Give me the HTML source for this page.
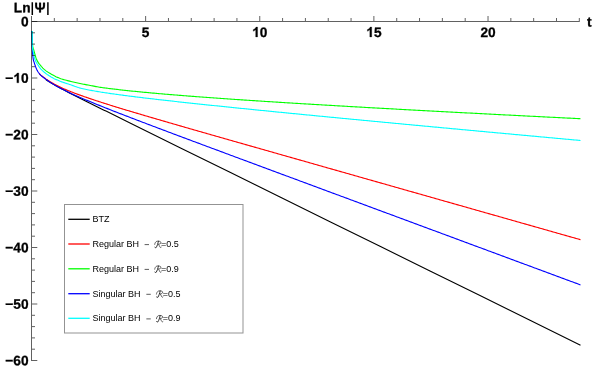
<!DOCTYPE html>
<html><head><meta charset="utf-8"><title>plot</title>
<style>html,body{margin:0;padding:0;background:#fff;}svg{display:block;will-change:transform;}</style></head>
<body><svg width="600" height="374" viewBox="0 0 600 374"><path d="M46.00,79.67 L48.00,81.00 L50.00,82.26 L52.00,83.47 L54.00,84.63 L56.00,85.76 L58.00,86.87 L60.00,87.95 L62.00,89.02 L64.00,90.07 L66.00,91.12 L68.00,92.15 L70.00,93.17 L72.00,94.19 L74.00,95.21 L76.00,96.21 L78.00,97.22 L80.00,98.22 L82.00,99.22 L84.00,100.22 L86.00,101.22 L88.00,102.21 L90.00,103.20 L92.00,104.19 L94.00,105.19 L96.00,106.18 L98.00,107.17 L100.00,108.16 L102.00,109.14 L104.00,110.13 L106.00,111.12 L108.00,112.11 L110.00,113.10 L112.00,114.08 L114.00,115.07 L116.00,116.06 L118.00,117.05 L120.00,118.03 L122.00,119.02 L124.00,120.01 L126.00,120.99 L128.00,121.98 L130.00,122.97 L180.00,147.63 L230.00,172.30 L280.00,196.96 L330.00,221.63 L380.00,246.29 L430.00,270.96 L480.00,295.62 L530.00,320.29 L580.00,344.95 L580.50,345.20" stroke="#000000" stroke-width="1.12" fill="none" stroke-linejoin="round"/>
<path d="M39.20,73.40 L39.92,74.29 L40.71,75.09 L41.60,75.80 L42.52,76.49 L43.44,77.15 L44.35,77.83 L45.28,78.49 L46.21,79.14 L47.16,79.76 L48.12,80.38 L49.08,80.99 L50.04,81.60 L51.00,82.20 L51.98,82.79 L52.96,83.35 L53.96,83.91 L54.96,84.45 L55.96,84.98 L56.97,85.51 L57.99,86.02 L59.01,86.53 L60.03,87.02 L61.06,87.49 L62.10,87.97 L63.14,88.43 L64.18,88.89 L65.22,89.34 L66.27,89.79 L67.32,90.23 L68.37,90.66 L69.42,91.10 L70.48,91.52 L71.53,91.94 L72.59,92.35 L73.66,92.76 L74.72,93.16 L75.79,93.56 L76.85,93.96 L77.92,94.35 L78.99,94.74 L80.06,95.13 L81.13,95.52 L82.20,95.90 L83.27,96.28 L84.34,96.66 L85.42,97.03 L86.49,97.40 L87.57,97.77 L88.64,98.14 L89.72,98.51 L90.80,98.87 L91.88,99.23 L92.96,99.59 L94.03,99.95 L95.11,100.31 L96.19,100.66 L97.28,101.02 L98.36,101.37 L99.44,101.72 L100.52,102.07 L101.60,102.42 L102.69,102.77 L103.77,103.11 L104.85,103.46 L105.94,103.80 L107.02,104.14 L108.11,104.49 L109.19,104.83 L110.28,105.17 L111.36,105.51 L112.45,105.84 L113.54,106.18 L114.62,106.52 L115.71,106.85 L116.80,107.19 L117.89,107.52 L118.97,107.85 L120.06,108.19 L121.15,108.52 L122.24,108.85 L123.33,109.18 L124.41,109.51 L125.50,109.84 L126.59,110.17 L127.68,110.50 L128.77,110.82 L129.86,111.15 L130.95,111.47 L132.04,111.80 L133.13,112.12 L134.22,112.45 L135.31,112.77 L136.40,113.09 L137.49,113.41 L138.58,113.74 L139.67,114.06 L140.76,114.38 L141.86,114.70 L142.95,115.02 L144.04,115.35 L145.13,115.67 L146.22,115.99 L147.31,116.31 L148.40,116.63 L149.49,116.95 L150.59,117.27 L151.68,117.59 L152.77,117.91 L153.86,118.23 L154.95,118.54 L156.04,118.86 L157.14,119.18 L158.23,119.50 L159.32,119.82 L160.41,120.14 L161.50,120.45 L162.60,120.77 L163.69,121.09 L164.78,121.41 L165.87,121.72 L166.97,122.04 L168.06,122.36 L169.15,122.68 L170.24,122.99 L171.34,123.31 L172.43,123.63 L173.52,123.94 L174.61,124.26 L175.71,124.58 L176.80,124.89 L177.89,125.21 L178.98,125.52 L180.08,125.84 L181.17,126.16 L182.26,126.47 L183.35,126.79 L184.45,127.10 L185.54,127.42 L186.63,127.73 L187.73,128.05 L188.82,128.36 L189.91,128.68 L191.00,128.99 L192.10,129.30 L193.19,129.62 L194.28,129.93 L195.38,130.25 L196.47,130.56 L197.57,130.87 L198.66,131.18 L199.75,131.50 L200.85,131.81 L201.94,132.12 L203.03,132.44 L204.13,132.75 L205.22,133.06 L206.31,133.37 L207.41,133.68 L208.50,134.00 L209.60,134.31 L210.69,134.62 L211.78,134.93 L212.88,135.24 L213.97,135.56 L215.06,135.87 L216.16,136.18 L217.25,136.49 L218.35,136.80 L219.44,137.12 L220.53,137.43 L221.63,137.74 L222.72,138.05 L223.82,138.36 L224.91,138.67 L226.00,138.99 L227.10,139.30 L228.19,139.61 L229.28,139.92 L230.38,140.23 L231.47,140.55 L232.57,140.86 L233.66,141.17 L234.75,141.48 L235.85,141.79 L236.94,142.11 L238.04,142.42 L239.13,142.73 L240.22,143.04 L241.32,143.35 L242.41,143.66 L243.50,143.98 L244.60,144.29 L245.69,144.60 L246.79,144.91 L247.88,145.22 L248.97,145.53 L250.07,145.84 L251.16,146.16 L252.26,146.47 L253.35,146.78 L254.44,147.09 L255.54,147.40 L256.63,147.71 L257.73,148.02 L258.82,148.33 L259.91,148.64 L261.01,148.96 L262.10,149.27 L263.20,149.58 L264.29,149.89 L265.39,150.20 L266.48,150.51 L267.57,150.82 L268.67,151.13 L269.76,151.44 L270.86,151.75 L271.95,152.07 L273.04,152.38 L274.14,152.69 L275.23,153.00 L276.33,153.31 L277.42,153.62 L278.51,153.93 L279.61,154.24 L280.70,154.55 L281.80,154.86 L282.89,155.18 L283.98,155.49 L285.08,155.80 L286.17,156.11 L287.27,156.42 L288.36,156.73 L289.45,157.04 L290.55,157.35 L291.64,157.66 L292.74,157.97 L293.83,158.29 L294.93,158.60 L296.02,158.91 L297.11,159.22 L298.21,159.53 L299.30,159.84 L300.40,160.15 L301.49,160.46 L302.58,160.77 L303.68,161.08 L304.77,161.39 L305.87,161.71 L306.96,162.02 L308.05,162.33 L309.15,162.64 L310.24,162.95 L311.34,163.26 L312.43,163.57 L313.53,163.88 L314.62,164.19 L315.71,164.50 L316.81,164.81 L317.90,165.12 L319.00,165.43 L320.09,165.75 L321.18,166.06 L322.28,166.37 L323.37,166.68 L324.47,166.99 L325.56,167.30 L326.66,167.61 L327.75,167.92 L328.84,168.23 L329.94,168.54 L331.03,168.85 L332.13,169.16 L333.22,169.48 L334.31,169.79 L335.41,170.10 L336.50,170.41 L337.60,170.72 L338.69,171.03 L339.78,171.34 L340.88,171.65 L341.97,171.96 L343.07,172.27 L344.16,172.58 L345.26,172.89 L346.35,173.20 L347.44,173.52 L348.54,173.83 L349.63,174.14 L350.73,174.45 L351.82,174.76 L352.91,175.07 L354.01,175.38 L355.10,175.69 L356.20,176.00 L357.29,176.31 L358.39,176.62 L359.48,176.93 L360.57,177.24 L361.67,177.55 L362.76,177.87 L363.86,178.18 L364.95,178.49 L366.04,178.80 L367.14,179.11 L368.23,179.42 L369.33,179.73 L370.42,180.04 L371.52,180.35 L372.61,180.66 L373.70,180.97 L374.80,181.28 L375.89,181.59 L376.99,181.91 L378.08,182.22 L379.17,182.53 L380.27,182.84 L381.36,183.15 L382.46,183.46 L383.55,183.77 L384.65,184.08 L385.74,184.39 L386.83,184.70 L387.93,185.01 L389.02,185.32 L390.12,185.63 L391.21,185.94 L392.30,186.26 L393.40,186.57 L394.49,186.88 L395.59,187.19 L396.68,187.50 L397.78,187.81 L398.87,188.12 L399.96,188.43 L401.06,188.74 L402.15,189.05 L403.25,189.36 L404.34,189.67 L405.43,189.98 L406.53,190.30 L407.62,190.61 L408.72,190.92 L409.81,191.23 L410.90,191.54 L412.00,191.85 L413.09,192.16 L414.19,192.47 L415.28,192.78 L416.38,193.09 L417.47,193.40 L418.56,193.71 L419.66,194.02 L420.75,194.33 L421.85,194.65 L422.94,194.96 L424.03,195.27 L425.13,195.58 L426.22,195.89 L427.32,196.20 L428.41,196.51 L429.51,196.82 L430.60,197.13 L431.69,197.44 L432.79,197.75 L433.88,198.06 L434.98,198.37 L436.07,198.68 L437.16,199.00 L438.26,199.31 L439.35,199.62 L440.45,199.93 L441.54,200.24 L442.64,200.55 L443.73,200.86 L444.82,201.17 L445.92,201.48 L447.01,201.79 L448.11,202.10 L449.20,202.41 L450.29,202.72 L451.39,203.03 L452.48,203.35 L453.58,203.66 L454.67,203.97 L455.77,204.28 L456.86,204.59 L457.95,204.90 L459.05,205.21 L460.14,205.52 L461.24,205.83 L462.33,206.14 L463.42,206.45 L464.52,206.76 L465.61,207.07 L466.71,207.38 L467.80,207.70 L468.90,208.01 L469.99,208.32 L471.08,208.63 L472.18,208.94 L473.27,209.25 L474.37,209.56 L475.46,209.87 L476.55,210.18 L477.65,210.49 L478.74,210.80 L479.84,211.11 L480.93,211.42 L482.03,211.73 L483.12,212.05 L484.21,212.36 L485.31,212.67 L486.40,212.98 L487.50,213.29 L488.59,213.60 L489.68,213.91 L490.78,214.22 L491.87,214.53 L492.97,214.84 L494.06,215.15 L495.16,215.46 L496.25,215.77 L497.34,216.08 L498.44,216.40 L499.53,216.71 L500.63,217.02 L501.72,217.33 L502.81,217.64 L503.91,217.95 L505.00,218.26 L506.10,218.57 L507.19,218.88 L508.29,219.19 L509.38,219.50 L510.47,219.81 L511.57,220.12 L512.66,220.43 L513.76,220.75 L514.85,221.06 L515.94,221.37 L517.04,221.68 L518.13,221.99 L519.23,222.30 L520.32,222.61 L521.42,222.92 L522.51,223.23 L523.60,223.54 L524.70,223.85 L525.79,224.16 L526.89,224.47 L527.98,224.78 L529.07,225.10 L530.17,225.41 L531.26,225.72 L532.36,226.03 L533.45,226.34 L534.55,226.65 L535.64,226.96 L536.73,227.27 L537.83,227.58 L538.92,227.89 L540.02,228.20 L541.11,228.51 L542.20,228.82 L543.30,229.13 L544.39,229.45 L545.49,229.76 L546.58,230.07 L547.68,230.38 L548.77,230.69 L549.86,231.00 L550.96,231.31 L552.05,231.62 L553.15,231.93 L554.24,232.24 L555.33,232.55 L556.43,232.86 L557.52,233.17 L558.62,233.48 L559.71,233.80 L560.81,234.11 L561.90,234.42 L562.99,234.73 L564.09,235.04 L565.18,235.35 L566.28,235.66 L567.37,235.97 L568.46,236.28 L569.56,236.59 L570.65,236.90 L571.75,237.21 L572.84,237.52 L573.94,237.83 L575.03,238.15 L576.12,238.46 L577.22,238.77 L578.31,239.08 L579.41,239.39 L580.50,239.70" stroke="#ff0000" stroke-width="1.12" fill="none" stroke-linejoin="round"/>
<path d="M32.00,31.00 L32.02,32.17 L32.04,33.34 L32.07,34.50 L32.11,35.67 L32.15,36.83 L32.20,38.00 L32.25,39.17 L32.30,40.34 L32.36,41.51 L32.43,42.68 L32.52,43.85 L32.62,45.01 L32.74,46.16 L32.90,47.30 L33.21,48.42 L33.59,49.54 L33.94,50.66 L34.25,51.78 L34.56,52.91 L34.88,54.03 L35.20,55.16 L35.52,56.29 L35.85,57.42 L36.22,58.52 L36.64,59.60 L37.14,60.65 L37.72,61.67 L38.34,62.66 L39.03,63.60 L39.77,64.50 L40.52,65.40 L41.27,66.30 L42.04,67.18 L42.83,68.03 L43.66,68.85 L44.53,69.63 L45.43,70.38 L46.36,71.09 L47.31,71.76 L48.30,72.38 L49.30,72.98 L50.30,73.58 L51.31,74.18 L52.32,74.76 L53.34,75.32 L54.38,75.87 L55.42,76.39 L56.47,76.90 L57.54,77.38 L58.61,77.84 L59.69,78.28 L60.78,78.69 L61.89,79.06 L63.00,79.41 L64.12,79.73 L65.25,80.04 L66.38,80.33 L67.52,80.60 L68.65,80.88 L69.79,81.15 L70.92,81.42 L72.06,81.70 L73.19,81.97 L74.33,82.24 L75.47,82.50 L76.61,82.76 L77.74,83.02 L78.88,83.26 L80.03,83.51 L81.17,83.74 L82.31,83.96 L83.46,84.19 L84.61,84.40 L85.76,84.61 L86.90,84.83 L88.05,85.04 L89.20,85.25 L90.35,85.47 L91.49,85.69 L92.64,85.91 L93.79,86.14 L94.93,86.37 L96.08,86.59 L97.22,86.80 L98.37,87.01 L99.52,87.20 L100.68,87.38 L101.83,87.55 L102.99,87.71 L104.14,87.86 L105.30,88.01 L106.46,88.16 L107.62,88.30 L108.78,88.45 L109.94,88.59 L111.10,88.73 L112.25,88.87 L113.41,89.01 L114.57,89.15 L115.73,89.29 L116.89,89.42 L118.05,89.56 L119.21,89.69 L120.37,89.82 L121.53,89.95 L122.69,90.08 L123.85,90.21 L125.01,90.33 L126.17,90.46 L127.33,90.58 L128.49,90.71 L129.65,90.83 L130.81,90.95 L131.98,91.07 L133.14,91.19 L134.30,91.30 L135.46,91.42 L136.62,91.54 L137.78,91.65 L138.94,91.77 L140.11,91.88 L141.27,91.99 L142.43,92.10 L143.59,92.21 L144.75,92.32 L145.92,92.43 L147.08,92.54 L148.24,92.65 L149.40,92.76 L150.57,92.86 L151.73,92.97 L152.89,93.07 L154.05,93.18 L155.22,93.28 L156.38,93.39 L157.54,93.49 L158.70,93.59 L159.87,93.69 L161.03,93.79 L162.19,93.89 L163.36,93.99 L164.52,94.09 L165.68,94.19 L166.85,94.29 L168.01,94.39 L169.17,94.49 L170.34,94.58 L171.50,94.68 L172.66,94.77 L173.83,94.87 L174.99,94.97 L176.15,95.06 L177.32,95.15 L178.48,95.25 L179.64,95.34 L180.81,95.43 L181.97,95.53 L183.13,95.62 L184.30,95.71 L185.46,95.80 L186.63,95.89 L187.79,95.98 L188.95,96.07 L190.12,96.16 L191.28,96.25 L192.44,96.34 L193.61,96.43 L194.77,96.52 L195.94,96.61 L197.10,96.70 L198.26,96.78 L199.43,96.87 L200.59,96.96 L201.76,97.04 L202.92,97.13 L204.08,97.22 L205.25,97.30 L206.41,97.39 L207.58,97.47 L208.74,97.56 L209.91,97.64 L211.07,97.73 L212.23,97.81 L213.40,97.89 L214.56,97.98 L215.73,98.06 L216.89,98.14 L218.06,98.23 L219.22,98.31 L220.38,98.39 L221.55,98.47 L222.71,98.56 L223.88,98.64 L225.04,98.72 L226.21,98.80 L227.37,98.88 L228.54,98.96 L229.70,99.04 L230.86,99.12 L232.03,99.20 L233.19,99.28 L234.36,99.36 L235.52,99.44 L236.69,99.52 L237.85,99.60 L239.02,99.68 L240.18,99.76 L241.35,99.83 L242.51,99.91 L243.68,99.99 L244.84,100.07 L246.00,100.15 L247.17,100.22 L248.33,100.30 L249.50,100.38 L250.66,100.45 L251.83,100.53 L252.99,100.61 L254.16,100.68 L255.32,100.76 L256.49,100.84 L257.65,100.91 L258.82,100.99 L259.98,101.06 L261.15,101.14 L262.31,101.21 L263.48,101.29 L264.64,101.37 L265.81,101.44 L266.97,101.51 L268.14,101.59 L269.30,101.66 L270.47,101.74 L271.63,101.81 L272.80,101.89 L273.96,101.96 L275.13,102.03 L276.29,102.11 L277.46,102.18 L278.62,102.25 L279.79,102.33 L280.95,102.40 L282.12,102.47 L283.28,102.54 L284.45,102.62 L285.61,102.69 L286.78,102.76 L287.94,102.83 L289.11,102.91 L290.27,102.98 L291.44,103.05 L292.60,103.12 L293.77,103.19 L294.93,103.27 L296.10,103.34 L297.26,103.41 L298.43,103.48 L299.59,103.55 L300.76,103.62 L301.92,103.69 L303.09,103.76 L304.25,103.83 L305.42,103.90 L306.58,103.97 L307.75,104.04 L308.91,104.11 L310.08,104.18 L311.24,104.25 L312.41,104.32 L313.57,104.39 L314.74,104.46 L315.90,104.53 L317.07,104.60 L318.24,104.67 L319.40,104.74 L320.57,104.81 L321.73,104.88 L322.90,104.95 L324.06,105.02 L325.23,105.08 L326.39,105.15 L327.56,105.22 L328.72,105.29 L329.89,105.36 L331.05,105.43 L332.22,105.50 L333.38,105.56 L334.55,105.63 L335.71,105.70 L336.88,105.77 L338.04,105.84 L339.21,105.90 L340.38,105.97 L341.54,106.04 L342.71,106.11 L343.87,106.17 L345.04,106.24 L346.20,106.31 L347.37,106.37 L348.53,106.44 L349.70,106.51 L350.86,106.57 L352.03,106.64 L353.19,106.71 L354.36,106.77 L355.53,106.84 L356.69,106.91 L357.86,106.97 L359.02,107.04 L360.19,107.11 L361.35,107.17 L362.52,107.24 L363.68,107.30 L364.85,107.37 L366.01,107.44 L367.18,107.50 L368.34,107.57 L369.51,107.63 L370.68,107.70 L371.84,107.76 L373.01,107.83 L374.17,107.90 L375.34,107.96 L376.50,108.03 L377.67,108.09 L378.83,108.16 L380.00,108.22 L381.17,108.29 L382.33,108.35 L383.50,108.42 L384.66,108.48 L385.83,108.55 L386.99,108.61 L388.16,108.68 L389.32,108.74 L390.49,108.80 L391.65,108.87 L392.82,108.93 L393.99,109.00 L395.15,109.06 L396.32,109.13 L397.48,109.19 L398.65,109.25 L399.81,109.32 L400.98,109.38 L402.14,109.45 L403.31,109.51 L404.48,109.57 L405.64,109.64 L406.81,109.70 L407.97,109.76 L409.14,109.83 L410.30,109.89 L411.47,109.95 L412.63,110.02 L413.80,110.08 L414.97,110.14 L416.13,110.21 L417.30,110.27 L418.46,110.33 L419.63,110.40 L420.79,110.46 L421.96,110.52 L423.12,110.59 L424.29,110.65 L425.46,110.71 L426.62,110.77 L427.79,110.84 L428.95,110.90 L430.12,110.96 L431.28,111.02 L432.45,111.09 L433.62,111.15 L434.78,111.21 L435.95,111.27 L437.11,111.34 L438.28,111.40 L439.44,111.46 L440.61,111.52 L441.77,111.59 L442.94,111.65 L444.11,111.71 L445.27,111.77 L446.44,111.83 L447.60,111.90 L448.77,111.96 L449.93,112.02 L451.10,112.08 L452.27,112.14 L453.43,112.20 L454.60,112.27 L455.76,112.33 L456.93,112.39 L458.09,112.45 L459.26,112.51 L460.43,112.57 L461.59,112.63 L462.76,112.70 L463.92,112.76 L465.09,112.82 L466.25,112.88 L467.42,112.94 L468.59,113.00 L469.75,113.06 L470.92,113.12 L472.08,113.18 L473.25,113.25 L474.41,113.31 L475.58,113.37 L476.74,113.43 L477.91,113.49 L479.08,113.55 L480.24,113.61 L481.41,113.67 L482.57,113.73 L483.74,113.79 L484.90,113.85 L486.07,113.91 L487.24,113.97 L488.40,114.03 L489.57,114.09 L490.73,114.16 L491.90,114.22 L493.07,114.28 L494.23,114.34 L495.40,114.40 L496.56,114.46 L497.73,114.52 L498.89,114.58 L500.06,114.64 L501.23,114.70 L502.39,114.76 L503.56,114.82 L504.72,114.88 L505.89,114.94 L507.05,115.00 L508.22,115.06 L509.39,115.12 L510.55,115.18 L511.72,115.24 L512.88,115.30 L514.05,115.36 L515.21,115.41 L516.38,115.47 L517.55,115.53 L518.71,115.59 L519.88,115.65 L521.04,115.71 L522.21,115.77 L523.37,115.83 L524.54,115.89 L525.71,115.95 L526.87,116.01 L528.04,116.07 L529.20,116.13 L530.37,116.19 L531.54,116.25 L532.70,116.31 L533.87,116.36 L535.03,116.42 L536.20,116.48 L537.36,116.54 L538.53,116.60 L539.70,116.66 L540.86,116.72 L542.03,116.78 L543.19,116.84 L544.36,116.90 L545.53,116.95 L546.69,117.01 L547.86,117.07 L549.02,117.13 L550.19,117.19 L551.35,117.25 L552.52,117.31 L553.69,117.36 L554.85,117.42 L556.02,117.48 L557.18,117.54 L558.35,117.60 L559.51,117.66 L560.68,117.72 L561.85,117.77 L563.01,117.83 L564.18,117.89 L565.34,117.95 L566.51,118.01 L567.68,118.07 L568.84,118.12 L570.01,118.18 L571.17,118.24 L572.34,118.30 L573.50,118.36 L574.67,118.42 L575.84,118.47 L577.00,118.53 L578.17,118.59 L579.33,118.65 L580.50,118.71" stroke="#00ff00" stroke-width="1.12" fill="none" stroke-linejoin="round"/>
<path d="M31.80,31.00 L31.83,32.25 L31.86,33.51 L31.88,34.76 L31.91,36.02 L31.94,37.27 L31.96,38.52 L31.98,39.78 L32.00,41.03 L32.01,42.29 L32.03,43.54 L32.05,44.80 L32.08,46.05 L32.13,47.30 L32.23,48.55 L32.34,49.80 L32.44,51.05 L32.52,52.31 L32.61,53.56 L32.72,54.81 L32.85,56.06 L32.99,57.31 L33.16,58.56 L33.36,59.79 L33.66,61.00 L34.06,62.19 L34.45,63.38 L34.85,64.57 L35.26,65.76 L35.67,66.94 L36.13,68.11 L36.64,69.26 L37.20,70.38 L37.80,71.48 L38.48,72.53 L39.23,73.54 L40.04,74.51 L40.92,75.39 L41.88,76.20 L42.85,76.99 L43.84,77.77 L44.84,78.53 L45.84,79.28 L46.86,80.01 L47.89,80.73 L48.93,81.43 L49.98,82.11 L51.04,82.79 L52.10,83.46 L53.17,84.12 L54.24,84.77 L55.32,85.41 L56.41,86.03 L57.50,86.65 L58.60,87.25 L59.70,87.84 L60.82,88.42 L61.94,88.97 L63.07,89.53 L64.19,90.10 L65.31,90.67 L66.43,91.23 L67.55,91.79 L68.68,92.34 L69.81,92.88 L70.94,93.41 L72.09,93.93 L73.23,94.44 L74.38,94.95 L75.53,95.45 L76.68,95.96 L77.83,96.46 L78.98,96.96 L80.13,97.45 L81.28,97.95 L82.44,98.44 L83.59,98.93 L84.75,99.41 L85.90,99.90 L87.06,100.38 L88.22,100.87 L89.38,101.35 L90.54,101.83 L91.70,102.30 L92.86,102.78 L94.02,103.25 L95.18,103.73 L96.34,104.20 L97.50,104.67 L98.67,105.14 L99.83,105.61 L101.00,106.07 L102.16,106.54 L103.32,107.00 L104.49,107.47 L105.66,107.93 L106.82,108.39 L107.99,108.86 L109.16,109.32 L110.32,109.78 L111.49,110.24 L112.66,110.69 L113.83,111.15 L114.99,111.61 L116.16,112.06 L117.33,112.52 L118.50,112.97 L119.67,113.43 L120.84,113.88 L122.01,114.34 L123.18,114.79 L124.35,115.24 L125.52,115.69 L126.69,116.14 L127.86,116.59 L129.03,117.04 L130.20,117.49 L131.37,117.94 L132.54,118.39 L133.72,118.84 L134.89,119.28 L136.06,119.73 L137.23,120.18 L138.40,120.62 L139.58,121.07 L140.75,121.51 L141.92,121.96 L143.09,122.40 L144.27,122.85 L145.44,123.29 L146.61,123.74 L147.79,124.18 L148.96,124.63 L150.13,125.07 L151.31,125.52 L152.48,125.96 L153.65,126.40 L154.83,126.85 L156.00,127.29 L157.17,127.73 L158.35,128.17 L159.52,128.62 L160.69,129.06 L161.87,129.50 L163.04,129.94 L164.21,130.39 L165.39,130.83 L166.56,131.27 L167.74,131.71 L168.91,132.15 L170.08,132.60 L171.26,133.04 L172.43,133.48 L173.61,133.92 L174.78,134.36 L175.96,134.80 L177.13,135.24 L178.30,135.68 L179.48,136.12 L180.65,136.57 L181.83,137.01 L183.00,137.45 L184.18,137.89 L185.35,138.33 L186.53,138.77 L187.70,139.21 L188.87,139.64 L190.05,140.08 L191.22,140.52 L192.40,140.96 L193.57,141.40 L194.75,141.84 L195.93,142.28 L197.10,142.72 L198.28,143.15 L199.45,143.59 L200.63,144.03 L201.80,144.47 L202.98,144.91 L204.15,145.34 L205.33,145.78 L206.50,146.22 L207.68,146.66 L208.86,147.09 L210.03,147.53 L211.21,147.97 L212.38,148.41 L213.56,148.84 L214.73,149.28 L215.91,149.72 L217.09,150.15 L218.26,150.59 L219.44,151.03 L220.61,151.47 L221.79,151.90 L222.96,152.34 L224.14,152.78 L225.32,153.21 L226.49,153.65 L227.67,154.09 L228.84,154.53 L230.02,154.96 L231.19,155.40 L232.37,155.84 L233.54,156.27 L234.72,156.71 L235.90,157.15 L237.07,157.59 L238.25,158.02 L239.42,158.46 L240.60,158.90 L241.78,159.33 L242.95,159.77 L244.13,160.21 L245.30,160.64 L246.48,161.08 L247.65,161.52 L248.83,161.95 L250.01,162.39 L251.18,162.83 L252.36,163.26 L253.53,163.70 L254.71,164.14 L255.89,164.57 L257.06,165.01 L258.24,165.44 L259.41,165.88 L260.59,166.32 L261.77,166.75 L262.94,167.19 L264.12,167.63 L265.29,168.06 L266.47,168.50 L267.65,168.93 L268.82,169.37 L270.00,169.81 L271.17,170.24 L272.35,170.68 L273.53,171.12 L274.70,171.55 L275.88,171.99 L277.05,172.42 L278.23,172.86 L279.41,173.30 L280.58,173.73 L281.76,174.17 L282.93,174.61 L284.11,175.04 L285.29,175.48 L286.46,175.91 L287.64,176.35 L288.81,176.79 L289.99,177.22 L291.17,177.66 L292.34,178.10 L293.52,178.53 L294.70,178.97 L295.87,179.40 L297.05,179.84 L298.22,180.28 L299.40,180.71 L300.58,181.15 L301.75,181.58 L302.93,182.02 L304.10,182.46 L305.28,182.89 L306.46,183.33 L307.63,183.76 L308.81,184.20 L309.98,184.64 L311.16,185.07 L312.34,185.51 L313.51,185.94 L314.69,186.38 L315.87,186.82 L317.04,187.25 L318.22,187.69 L319.39,188.12 L320.57,188.56 L321.75,189.00 L322.92,189.43 L324.10,189.87 L325.27,190.30 L326.45,190.74 L327.63,191.18 L328.80,191.61 L329.98,192.05 L331.15,192.48 L332.33,192.92 L333.51,193.36 L334.68,193.79 L335.86,194.23 L337.04,194.66 L338.21,195.10 L339.39,195.54 L340.56,195.97 L341.74,196.41 L342.92,196.84 L344.09,197.28 L345.27,197.72 L346.44,198.15 L347.62,198.59 L348.80,199.02 L349.97,199.46 L351.15,199.90 L352.33,200.33 L353.50,200.77 L354.68,201.20 L355.85,201.64 L357.03,202.08 L358.21,202.51 L359.38,202.95 L360.56,203.38 L361.73,203.82 L362.91,204.26 L364.09,204.69 L365.26,205.13 L366.44,205.56 L367.62,206.00 L368.79,206.44 L369.97,206.87 L371.14,207.31 L372.32,207.74 L373.50,208.18 L374.67,208.61 L375.85,209.05 L377.02,209.49 L378.20,209.92 L379.38,210.36 L380.55,210.79 L381.73,211.23 L382.91,211.67 L384.08,212.10 L385.26,212.54 L386.43,212.97 L387.61,213.41 L388.79,213.85 L389.96,214.28 L391.14,214.72 L392.31,215.15 L393.49,215.59 L394.67,216.03 L395.84,216.46 L397.02,216.90 L398.20,217.33 L399.37,217.77 L400.55,218.20 L401.72,218.64 L402.90,219.08 L404.08,219.51 L405.25,219.95 L406.43,220.38 L407.60,220.82 L408.78,221.26 L409.96,221.69 L411.13,222.13 L412.31,222.56 L413.49,223.00 L414.66,223.44 L415.84,223.87 L417.01,224.31 L418.19,224.74 L419.37,225.18 L420.54,225.62 L421.72,226.05 L422.89,226.49 L424.07,226.92 L425.25,227.36 L426.42,227.79 L427.60,228.23 L428.78,228.67 L429.95,229.10 L431.13,229.54 L432.30,229.97 L433.48,230.41 L434.66,230.85 L435.83,231.28 L437.01,231.72 L438.18,232.15 L439.36,232.59 L440.54,233.03 L441.71,233.46 L442.89,233.90 L444.07,234.33 L445.24,234.77 L446.42,235.21 L447.59,235.64 L448.77,236.08 L449.95,236.51 L451.12,236.95 L452.30,237.38 L453.47,237.82 L454.65,238.26 L455.83,238.69 L457.00,239.13 L458.18,239.56 L459.36,240.00 L460.53,240.44 L461.71,240.87 L462.88,241.31 L464.06,241.74 L465.24,242.18 L466.41,242.62 L467.59,243.05 L468.76,243.49 L469.94,243.92 L471.12,244.36 L472.29,244.79 L473.47,245.23 L474.65,245.67 L475.82,246.10 L477.00,246.54 L478.17,246.97 L479.35,247.41 L480.53,247.85 L481.70,248.28 L482.88,248.72 L484.05,249.15 L485.23,249.59 L486.41,250.03 L487.58,250.46 L488.76,250.90 L489.94,251.33 L491.11,251.77 L492.29,252.20 L493.46,252.64 L494.64,253.08 L495.82,253.51 L496.99,253.95 L498.17,254.38 L499.34,254.82 L500.52,255.26 L501.70,255.69 L502.87,256.13 L504.05,256.56 L505.23,257.00 L506.40,257.44 L507.58,257.87 L508.75,258.31 L509.93,258.74 L511.11,259.18 L512.28,259.62 L513.46,260.05 L514.63,260.49 L515.81,260.92 L516.99,261.36 L518.16,261.79 L519.34,262.23 L520.52,262.67 L521.69,263.10 L522.87,263.54 L524.04,263.97 L525.22,264.41 L526.40,264.85 L527.57,265.28 L528.75,265.72 L529.93,266.15 L531.10,266.59 L532.28,267.03 L533.45,267.46 L534.63,267.90 L535.81,268.33 L536.98,268.77 L538.16,269.20 L539.33,269.64 L540.51,270.08 L541.69,270.51 L542.86,270.95 L544.04,271.38 L545.22,271.82 L546.39,272.26 L547.57,272.69 L548.74,273.13 L549.92,273.56 L551.10,274.00 L552.27,274.44 L553.45,274.87 L554.62,275.31 L555.80,275.74 L556.98,276.18 L558.15,276.61 L559.33,277.05 L560.51,277.49 L561.68,277.92 L562.86,278.36 L564.03,278.79 L565.21,279.23 L566.39,279.67 L567.56,280.10 L568.74,280.54 L569.91,280.97 L571.09,281.41 L572.27,281.85 L573.44,282.28 L574.62,282.72 L575.80,283.15 L576.97,283.59 L578.15,284.03 L579.32,284.46 L580.50,284.90" stroke="#0000ff" stroke-width="1.12" fill="none" stroke-linejoin="round"/>
<path d="M32.10,31.00 L32.10,32.18 L32.11,33.35 L32.12,34.53 L32.13,35.71 L32.14,36.89 L32.15,38.06 L32.17,39.24 L32.19,40.42 L32.21,41.60 L32.24,42.78 L32.28,43.95 L32.32,45.13 L32.38,46.30 L32.47,47.47 L32.65,48.63 L32.87,49.79 L33.07,50.95 L33.27,52.12 L33.48,53.27 L33.71,54.43 L33.95,55.59 L34.22,56.74 L34.51,57.88 L34.84,59.01 L35.22,60.11 L35.68,61.19 L36.22,62.25 L36.79,63.28 L37.44,64.26 L38.12,65.22 L38.76,66.22 L39.41,67.20 L40.11,68.14 L40.88,69.02 L41.70,69.88 L42.54,70.70 L43.41,71.50 L44.30,72.27 L45.22,73.01 L46.15,73.73 L47.10,74.42 L48.08,75.08 L49.07,75.72 L50.07,76.34 L51.07,76.95 L52.09,77.54 L53.12,78.11 L54.17,78.64 L55.24,79.14 L56.31,79.63 L57.39,80.10 L58.47,80.57 L59.56,81.02 L60.65,81.45 L61.76,81.86 L62.87,82.25 L63.98,82.63 L65.10,83.01 L66.21,83.37 L67.34,83.73 L68.46,84.09 L69.57,84.46 L70.69,84.83 L71.80,85.23 L72.91,85.63 L74.02,86.04 L75.13,86.44 L76.24,86.84 L77.35,87.22 L78.47,87.58 L79.59,87.91 L80.73,88.21 L81.87,88.49 L83.01,88.76 L84.16,89.02 L85.31,89.26 L86.47,89.50 L87.63,89.73 L88.78,89.96 L89.94,90.18 L91.09,90.40 L92.25,90.62 L93.41,90.82 L94.57,91.03 L95.73,91.23 L96.89,91.42 L98.05,91.62 L99.21,91.81 L100.38,91.99 L101.54,92.18 L102.70,92.36 L103.86,92.54 L105.03,92.72 L106.19,92.89 L107.36,93.07 L108.52,93.24 L109.69,93.41 L110.85,93.58 L112.02,93.75 L113.18,93.91 L114.35,94.07 L115.51,94.24 L116.68,94.40 L117.85,94.55 L119.01,94.71 L120.18,94.87 L121.34,95.03 L122.51,95.18 L123.68,95.33 L124.85,95.49 L126.01,95.64 L127.18,95.79 L128.35,95.94 L129.52,96.09 L130.68,96.24 L131.85,96.38 L133.02,96.53 L134.19,96.68 L135.36,96.82 L136.52,96.97 L137.69,97.11 L138.86,97.25 L140.03,97.39 L141.20,97.54 L142.37,97.68 L143.53,97.82 L144.70,97.96 L145.87,98.10 L147.04,98.24 L148.21,98.37 L149.38,98.51 L150.55,98.65 L151.72,98.79 L152.89,98.92 L154.06,99.06 L155.22,99.19 L156.39,99.33 L157.56,99.46 L158.73,99.60 L159.90,99.73 L161.07,99.86 L162.24,100.00 L163.41,100.13 L164.58,100.26 L165.75,100.39 L166.92,100.52 L168.09,100.66 L169.26,100.79 L170.43,100.92 L171.60,101.05 L172.77,101.18 L173.94,101.31 L175.11,101.44 L176.28,101.56 L177.45,101.69 L178.62,101.82 L179.79,101.95 L180.96,102.08 L182.13,102.20 L183.30,102.33 L184.47,102.46 L185.64,102.59 L186.81,102.71 L187.98,102.84 L189.15,102.96 L190.32,103.09 L191.49,103.22 L192.66,103.34 L193.83,103.47 L195.00,103.59 L196.17,103.72 L197.34,103.84 L198.51,103.96 L199.68,104.09 L200.86,104.21 L202.03,104.34 L203.20,104.46 L204.37,104.58 L205.54,104.71 L206.71,104.83 L207.88,104.95 L209.05,105.07 L210.22,105.20 L211.39,105.32 L212.56,105.44 L213.73,105.56 L214.90,105.69 L216.07,105.81 L217.25,105.93 L218.42,106.05 L219.59,106.17 L220.76,106.29 L221.93,106.41 L223.10,106.53 L224.27,106.65 L225.44,106.77 L226.61,106.89 L227.78,107.01 L228.95,107.13 L230.12,107.25 L231.30,107.37 L232.47,107.49 L233.64,107.61 L234.81,107.73 L235.98,107.85 L237.15,107.97 L238.32,108.09 L239.49,108.21 L240.66,108.33 L241.84,108.45 L243.01,108.56 L244.18,108.68 L245.35,108.80 L246.52,108.92 L247.69,109.04 L248.86,109.16 L250.03,109.27 L251.20,109.39 L252.38,109.51 L253.55,109.63 L254.72,109.74 L255.89,109.86 L257.06,109.98 L258.23,110.10 L259.40,110.21 L260.57,110.33 L261.75,110.45 L262.92,110.56 L264.09,110.68 L265.26,110.80 L266.43,110.91 L267.60,111.03 L268.77,111.14 L269.94,111.26 L271.12,111.38 L272.29,111.49 L273.46,111.61 L274.63,111.73 L275.80,111.84 L276.97,111.96 L278.14,112.07 L279.32,112.19 L280.49,112.30 L281.66,112.42 L282.83,112.53 L284.00,112.65 L285.17,112.76 L286.34,112.88 L287.52,112.99 L288.69,113.11 L289.86,113.22 L291.03,113.34 L292.20,113.45 L293.37,113.57 L294.54,113.68 L295.72,113.80 L296.89,113.91 L298.06,114.03 L299.23,114.14 L300.40,114.25 L301.57,114.37 L302.75,114.48 L303.92,114.60 L305.09,114.71 L306.26,114.83 L307.43,114.94 L308.60,115.05 L309.77,115.17 L310.95,115.28 L312.12,115.39 L313.29,115.51 L314.46,115.62 L315.63,115.73 L316.80,115.85 L317.98,115.96 L319.15,116.07 L320.32,116.19 L321.49,116.30 L322.66,116.41 L323.83,116.53 L325.01,116.64 L326.18,116.75 L327.35,116.87 L328.52,116.98 L329.69,117.09 L330.86,117.20 L332.04,117.32 L333.21,117.43 L334.38,117.54 L335.55,117.65 L336.72,117.77 L337.89,117.88 L339.07,117.99 L340.24,118.10 L341.41,118.22 L342.58,118.33 L343.75,118.44 L344.92,118.55 L346.10,118.66 L347.27,118.78 L348.44,118.89 L349.61,119.00 L350.78,119.11 L351.95,119.22 L353.13,119.34 L354.30,119.45 L355.47,119.56 L356.64,119.67 L357.81,119.78 L358.99,119.89 L360.16,120.01 L361.33,120.12 L362.50,120.23 L363.67,120.34 L364.84,120.45 L366.02,120.56 L367.19,120.68 L368.36,120.79 L369.53,120.90 L370.70,121.01 L371.88,121.12 L373.05,121.23 L374.22,121.34 L375.39,121.45 L376.56,121.56 L377.73,121.68 L378.91,121.79 L380.08,121.90 L381.25,122.01 L382.42,122.12 L383.59,122.23 L384.77,122.34 L385.94,122.45 L387.11,122.56 L388.28,122.67 L389.45,122.78 L390.62,122.89 L391.80,123.00 L392.97,123.11 L394.14,123.23 L395.31,123.34 L396.48,123.45 L397.66,123.56 L398.83,123.67 L400.00,123.78 L401.17,123.89 L402.34,124.00 L403.52,124.11 L404.69,124.22 L405.86,124.33 L407.03,124.44 L408.20,124.55 L409.38,124.66 L410.55,124.77 L411.72,124.88 L412.89,124.99 L414.06,125.10 L415.24,125.21 L416.41,125.32 L417.58,125.43 L418.75,125.54 L419.92,125.65 L421.09,125.76 L422.27,125.87 L423.44,125.98 L424.61,126.09 L425.78,126.20 L426.95,126.31 L428.13,126.42 L429.30,126.52 L430.47,126.63 L431.64,126.74 L432.81,126.85 L433.99,126.96 L435.16,127.07 L436.33,127.18 L437.50,127.29 L438.67,127.40 L439.85,127.51 L441.02,127.62 L442.19,127.73 L443.36,127.84 L444.53,127.95 L445.71,128.06 L446.88,128.17 L448.05,128.27 L449.22,128.38 L450.39,128.49 L451.57,128.60 L452.74,128.71 L453.91,128.82 L455.08,128.93 L456.25,129.04 L457.43,129.15 L458.60,129.26 L459.77,129.36 L460.94,129.47 L462.11,129.58 L463.29,129.69 L464.46,129.80 L465.63,129.91 L466.80,130.02 L467.98,130.13 L469.15,130.23 L470.32,130.34 L471.49,130.45 L472.66,130.56 L473.84,130.67 L475.01,130.78 L476.18,130.89 L477.35,131.00 L478.52,131.10 L479.70,131.21 L480.87,131.32 L482.04,131.43 L483.21,131.54 L484.38,131.65 L485.56,131.75 L486.73,131.86 L487.90,131.97 L489.07,132.08 L490.24,132.19 L491.42,132.30 L492.59,132.40 L493.76,132.51 L494.93,132.62 L496.10,132.73 L497.28,132.84 L498.45,132.95 L499.62,133.05 L500.79,133.16 L501.97,133.27 L503.14,133.38 L504.31,133.49 L505.48,133.59 L506.65,133.70 L507.83,133.81 L509.00,133.92 L510.17,134.03 L511.34,134.14 L512.51,134.24 L513.69,134.35 L514.86,134.46 L516.03,134.57 L517.20,134.67 L518.38,134.78 L519.55,134.89 L520.72,135.00 L521.89,135.11 L523.06,135.21 L524.24,135.32 L525.41,135.43 L526.58,135.54 L527.75,135.65 L528.92,135.75 L530.10,135.86 L531.27,135.97 L532.44,136.08 L533.61,136.18 L534.78,136.29 L535.96,136.40 L537.13,136.51 L538.30,136.61 L539.47,136.72 L540.65,136.83 L541.82,136.94 L542.99,137.04 L544.16,137.15 L545.33,137.26 L546.51,137.37 L547.68,137.47 L548.85,137.58 L550.02,137.69 L551.20,137.80 L552.37,137.90 L553.54,138.01 L554.71,138.12 L555.88,138.23 L557.06,138.33 L558.23,138.44 L559.40,138.55 L560.57,138.66 L561.74,138.76 L562.92,138.87 L564.09,138.98 L565.26,139.08 L566.43,139.19 L567.61,139.30 L568.78,139.41 L569.95,139.51 L571.12,139.62 L572.29,139.73 L573.47,139.83 L574.64,139.94 L575.81,140.05 L576.98,140.16 L578.16,140.26 L579.33,140.37 L580.50,140.48" stroke="#00ffff" stroke-width="1.12" fill="none" stroke-linejoin="round"/>
<path d="M31.5,21.5 H579.8 M31.5,16 V361" stroke="#000" stroke-opacity="0.62" stroke-width="1" fill="none"/>
<path d="M54.33,21.0 v-3.0 M77.15,21.0 v-3.0 M99.98,21.0 v-3.0 M122.80,21.0 v-3.0 M145.63,21.0 v-5.0 M168.46,21.0 v-3.0 M191.28,21.0 v-3.0 M214.11,21.0 v-3.0 M236.93,21.0 v-3.0 M259.76,21.0 v-5.0 M282.59,21.0 v-3.0 M305.41,21.0 v-3.0 M328.24,21.0 v-3.0 M351.06,21.0 v-3.0 M373.89,21.0 v-5.0 M396.72,21.0 v-3.0 M419.54,21.0 v-3.0 M442.37,21.0 v-3.0 M465.19,21.0 v-3.0 M488.02,21.0 v-5.0 M510.85,21.0 v-3.0 M533.67,21.0 v-3.0 M556.50,21.0 v-3.0 M579.32,21.0 v-3.0 M32.0,21.50 h5.3 M32.0,32.80 h3.0 M32.0,44.10 h3.0 M32.0,55.40 h3.0 M32.0,66.70 h3.0 M32.0,78.00 h5.3 M32.0,89.30 h3.0 M32.0,100.60 h3.0 M32.0,111.90 h3.0 M32.0,123.20 h3.0 M32.0,134.50 h5.3 M32.0,145.80 h3.0 M32.0,157.10 h3.0 M32.0,168.40 h3.0 M32.0,179.70 h3.0 M32.0,191.00 h5.3 M32.0,202.30 h3.0 M32.0,213.60 h3.0 M32.0,224.90 h3.0 M32.0,236.20 h3.0 M32.0,247.50 h5.3 M32.0,258.80 h3.0 M32.0,270.10 h3.0 M32.0,281.40 h3.0 M32.0,292.70 h3.0 M32.0,304.00 h5.3 M32.0,315.30 h3.0 M32.0,326.60 h3.0 M32.0,337.90 h3.0 M32.0,349.20 h3.0 M32.0,360.50 h5.3" stroke="#000" stroke-opacity="0.62" stroke-width="1" fill="none"/>
<g font-family="Liberation Sans, sans-serif" font-weight="bold" font-size="13.7" fill="#000" stroke="#000" stroke-width="0.3" text-rendering="geometricPrecision"><text x="141.87" y="36.90" transform="rotate(0.03 141.87 36.90)">5</text><path transform="translate(252.19,36.90) scale(0.01370)" d="M393,0 H256 V-516 Q181,-446 79,-412 V-537 Q133,-554 196,-603 Q259,-652 282,-716 H393 Z" stroke-width="21.9"/><text x="259.81" y="36.90" transform="rotate(0.03 259.81 36.90)">0</text><path transform="translate(366.32,36.90) scale(0.01370)" d="M393,0 H256 V-516 Q181,-446 79,-412 V-537 Q133,-554 196,-603 Q259,-652 282,-716 H393 Z" stroke-width="21.9"/><text x="373.94" y="36.90" transform="rotate(0.03 373.94 36.90)">5</text><text x="480.45" y="36.90" transform="rotate(0.03 480.45 36.90)">2</text><text x="488.07" y="36.90" transform="rotate(0.03 488.07 36.90)">0</text><text x="20.98" y="26.30" transform="rotate(0.03 20.98 26.30)">0</text><text x="5.36" y="82.80" transform="rotate(0.03 5.36 82.80)">−</text><path transform="translate(13.37,82.80) scale(0.01370)" d="M393,0 H256 V-516 Q181,-446 79,-412 V-537 Q133,-554 196,-603 Q259,-652 282,-716 H393 Z" stroke-width="21.9"/><text x="20.98" y="82.80" transform="rotate(0.03 20.98 82.80)">0</text><text x="5.36" y="139.30" transform="rotate(0.03 5.36 139.30)">−</text><text x="13.37" y="139.30" transform="rotate(0.03 13.37 139.30)">2</text><text x="20.98" y="139.30" transform="rotate(0.03 20.98 139.30)">0</text><text x="5.36" y="195.80" transform="rotate(0.03 5.36 195.80)">−</text><text x="13.37" y="195.80" transform="rotate(0.03 13.37 195.80)">3</text><text x="20.98" y="195.80" transform="rotate(0.03 20.98 195.80)">0</text><text x="5.36" y="252.30" transform="rotate(0.03 5.36 252.30)">−</text><text x="13.37" y="252.30" transform="rotate(0.03 13.37 252.30)">4</text><text x="20.98" y="252.30" transform="rotate(0.03 20.98 252.30)">0</text><text x="5.36" y="308.80" transform="rotate(0.03 5.36 308.80)">−</text><text x="13.37" y="308.80" transform="rotate(0.03 13.37 308.80)">5</text><text x="20.98" y="308.80" transform="rotate(0.03 20.98 308.80)">0</text><text x="5.36" y="365.30" transform="rotate(0.03 5.36 365.30)">−</text><text x="13.37" y="365.30" transform="rotate(0.03 13.37 365.30)">6</text><text x="20.98" y="365.30" transform="rotate(0.03 20.98 365.30)">0</text><text x="587" y="26.4" transform="rotate(0.03 587 26.4)">t</text><text x="13.8" y="12.2" transform="rotate(0.03 13.8 12.2)">Ln</text><text x="34.6" y="12.2" transform="rotate(0.03 34.6 12.2)">Ψ</text><path d="M32.3,2.3 V15 M47.9,2.3 V15" stroke-width="1.5" fill="none"/></g>
<rect x="64.5" y="204.5" width="178.5" height="128.5" fill="#fff" stroke="#939393" stroke-width="1"/>
<g font-family="Liberation Sans, sans-serif" font-size="9" fill="#000"><path d="M68.3,219.3 H89.7" stroke="#000000" stroke-width="1.3"/><text x="92.4" y="222.3">BTZ</text><path d="M68.3,244.0 H89.7" stroke="#ff0000" stroke-width="1.3"/><text x="92.4" y="247.0">Regular BH</text><path d="M144.60,244.6 h4.4" stroke="#333" stroke-width="0.8"/><path transform="translate(153.90,240.9)" d="M0.8,3.5 C0.9,2.4 1.6,0.9 2.8,0.45 C3.2,0.25 3.9,0.25 4.5,0.3 C5.6,0.3 7.0,0.6 7.0,1.7 C7.0,2.8 5.7,3.3 4.3,3.3 C5.0,3.5 5.5,5.3 6.1,6.2 C6.4,6.7 6.9,6.8 7.3,6.4" stroke="#222" stroke-width="0.7" fill="none" stroke-linecap="round"/><path transform="translate(153.90,240.9)" d="M4.5,0.3 C4.1,2.6 3.3,5.0 2.2,6.7 C1.8,6.9 1.3,6.8 1.0,6.5" stroke="#222" stroke-width="0.95" fill="none" stroke-linecap="round"/><text x="161.10" y="247.0">=0.5</text><path d="M68.3,268.8 H89.7" stroke="#00ff00" stroke-width="1.3"/><text x="92.4" y="271.8">Regular BH</text><path d="M144.60,269.4 h4.4" stroke="#333" stroke-width="0.8"/><path transform="translate(153.90,265.7)" d="M0.8,3.5 C0.9,2.4 1.6,0.9 2.8,0.45 C3.2,0.25 3.9,0.25 4.5,0.3 C5.6,0.3 7.0,0.6 7.0,1.7 C7.0,2.8 5.7,3.3 4.3,3.3 C5.0,3.5 5.5,5.3 6.1,6.2 C6.4,6.7 6.9,6.8 7.3,6.4" stroke="#222" stroke-width="0.7" fill="none" stroke-linecap="round"/><path transform="translate(153.90,265.7)" d="M4.5,0.3 C4.1,2.6 3.3,5.0 2.2,6.7 C1.8,6.9 1.3,6.8 1.0,6.5" stroke="#222" stroke-width="0.95" fill="none" stroke-linecap="round"/><text x="161.10" y="271.8">=0.9</text><path d="M68.3,293.7 H89.7" stroke="#0000ff" stroke-width="1.3"/><text x="92.4" y="296.7">Singular BH</text><path d="M146.35,294.3 h4.4" stroke="#333" stroke-width="0.8"/><path transform="translate(155.65,290.6)" d="M0.8,3.5 C0.9,2.4 1.6,0.9 2.8,0.45 C3.2,0.25 3.9,0.25 4.5,0.3 C5.6,0.3 7.0,0.6 7.0,1.7 C7.0,2.8 5.7,3.3 4.3,3.3 C5.0,3.5 5.5,5.3 6.1,6.2 C6.4,6.7 6.9,6.8 7.3,6.4" stroke="#222" stroke-width="0.7" fill="none" stroke-linecap="round"/><path transform="translate(155.65,290.6)" d="M4.5,0.3 C4.1,2.6 3.3,5.0 2.2,6.7 C1.8,6.9 1.3,6.8 1.0,6.5" stroke="#222" stroke-width="0.95" fill="none" stroke-linecap="round"/><text x="162.85" y="296.7">=0.5</text><path d="M68.3,318.3 H89.7" stroke="#00ffff" stroke-width="1.3"/><text x="92.4" y="321.3">Singular BH</text><path d="M146.35,318.9 h4.4" stroke="#333" stroke-width="0.8"/><path transform="translate(155.65,315.2)" d="M0.8,3.5 C0.9,2.4 1.6,0.9 2.8,0.45 C3.2,0.25 3.9,0.25 4.5,0.3 C5.6,0.3 7.0,0.6 7.0,1.7 C7.0,2.8 5.7,3.3 4.3,3.3 C5.0,3.5 5.5,5.3 6.1,6.2 C6.4,6.7 6.9,6.8 7.3,6.4" stroke="#222" stroke-width="0.7" fill="none" stroke-linecap="round"/><path transform="translate(155.65,315.2)" d="M4.5,0.3 C4.1,2.6 3.3,5.0 2.2,6.7 C1.8,6.9 1.3,6.8 1.0,6.5" stroke="#222" stroke-width="0.95" fill="none" stroke-linecap="round"/><text x="162.85" y="321.3">=0.9</text></g></svg></body></html>
